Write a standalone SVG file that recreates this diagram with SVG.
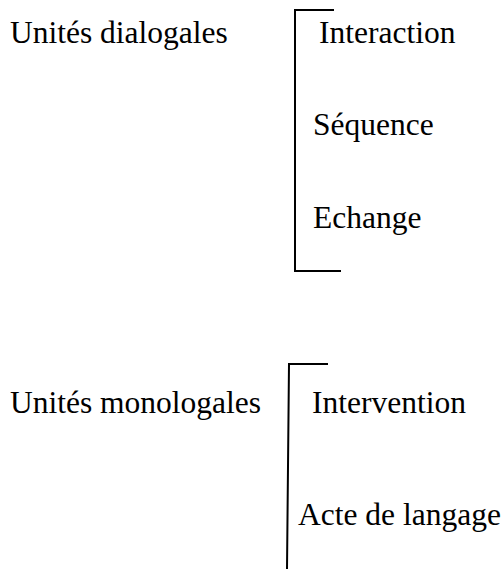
<svg xmlns="http://www.w3.org/2000/svg" width="503" height="569" viewBox="0 0 503 569">
<style>
text{font-family:"Liberation Serif","Times New Roman",serif;font-size:31.5px;fill:#000}
.br{fill:none;stroke:#000;stroke-width:2}
</style>
<rect width="503" height="569" fill="#fff"/>
<g id="dialogales">
<text x="10" y="43">Unités dialogales</text>
</g>
<g id="interaction"><text x="319" y="43">Interaction</text></g>
<g id="sequence"><text x="313" y="135">Séquence</text></g>
<g id="echange"><text x="313" y="228">Echange</text></g>
<g id="monologales">
<text x="10" y="413">Unités monologales</text>
</g>
<g id="intervention"><text x="312" y="413">Intervention</text></g>
<g id="acte"><text x="298" y="525">Acte de langage</text></g>
<g id="connectors">
<path class="br" d="M334,10 H295 V271 H341"/>
<path class="br" d="M328,364 H289 L287,569"/>
</g>
</svg>
